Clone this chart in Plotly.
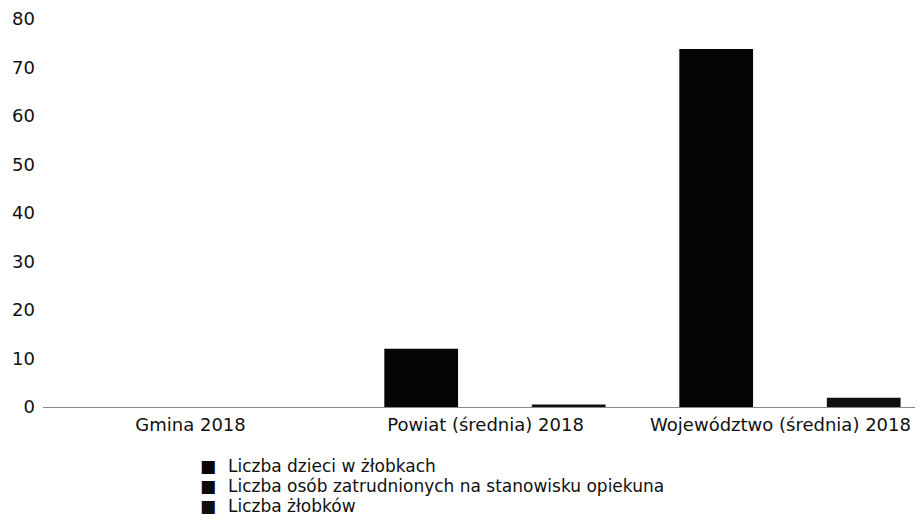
import plotly.graph_objects as go

categories = ["Gmina 2018", "Powiat (średnia) 2018", "Województwo (średnia) 2018"]
series_names = [
    "Liczba dzieci w żłobkach",
    "Liczba osób zatrudnionych na stanowisku opiekuna",
    "Liczba żłobków",
]
dzieci = [0, 12, 73.8]
opiekunowie = [0, 0, 0]
zlobki = [0, 0.5, 1.9]
y_ticks = [0, 10, 20, 30, 40, 50, 60, 70, 80]

values = [dzieci, opiekunowie, zlobki]
colors = ["#050505", "#0a0a0a", "#101010"]

# the page body adds an 8px offset on both axes; the figure is sized to fit
OFF = 8
W, H = 923 - OFF, 524 - OFF
ML, MR, MT = 43 - OFF, 0, 19 - OFF
MB = H - (407 - OFF)
PW, PH = W - ML - MR, H - MT - MB

# bar slot geometry (in category units): width and per-series offsets
BAR_W = 0.25
SHIFT = 0.032
offsets = [-0.375 + SHIFT, -0.125 + SHIFT, 0.125 + SHIFT]

fig = go.Figure()
for name, vals, col, off in zip(series_names, values, colors, offsets):
    fig.add_trace(go.Bar(x=categories, y=vals, name=name, showlegend=False,
                         width=BAR_W, offset=off,
                         marker=dict(color=col, line=dict(width=0))))

# legend drawn as text rows (tight row spacing as in the reference)
leg_rows_px = [466, 486, 506]
for name, col, py in zip(series_names, colors, leg_rows_px):
    yp = (H - MB - (py - OFF)) / PH
    fig.add_annotation(xref="paper", yref="paper", x=(208 - OFF - ML) / PW, y=yp,
                       text="■", showarrow=False, xanchor="center", yanchor="middle",
                       font=dict(size=17, color=col, family="DejaVu Sans"))
    fig.add_annotation(xref="paper", yref="paper", x=(226 - OFF - ML) / PW, y=yp,
                       text=name, showarrow=False, xanchor="left", yanchor="middle",
                       font=dict(size=17, color="#111", family="DejaVu Sans"))

fig.update_layout(
    width=W, height=H,
    margin=dict(l=ML, r=MR, t=MT, b=MB, autoexpand=False),
    paper_bgcolor="white", plot_bgcolor="white",
    barmode="overlay",
    font=dict(family="DejaVu Sans", size=18, color="#111"),
    showlegend=False,
    xaxis=dict(range=[-0.5, 2.483], showgrid=False, showline=False, automargin=False,
               ticks="", ticklabelstandoff=5, tickfont=dict(size=18)),
    yaxis=dict(range=[0, 80], tickvals=y_ticks, showgrid=False, automargin=False,
               zeroline=True, zerolinecolor="#888", zerolinewidth=1,
               showline=False, ticks="", ticklabelstandoff=7,
               tickfont=dict(size=18)),
)

fig.write_html("out.html")
